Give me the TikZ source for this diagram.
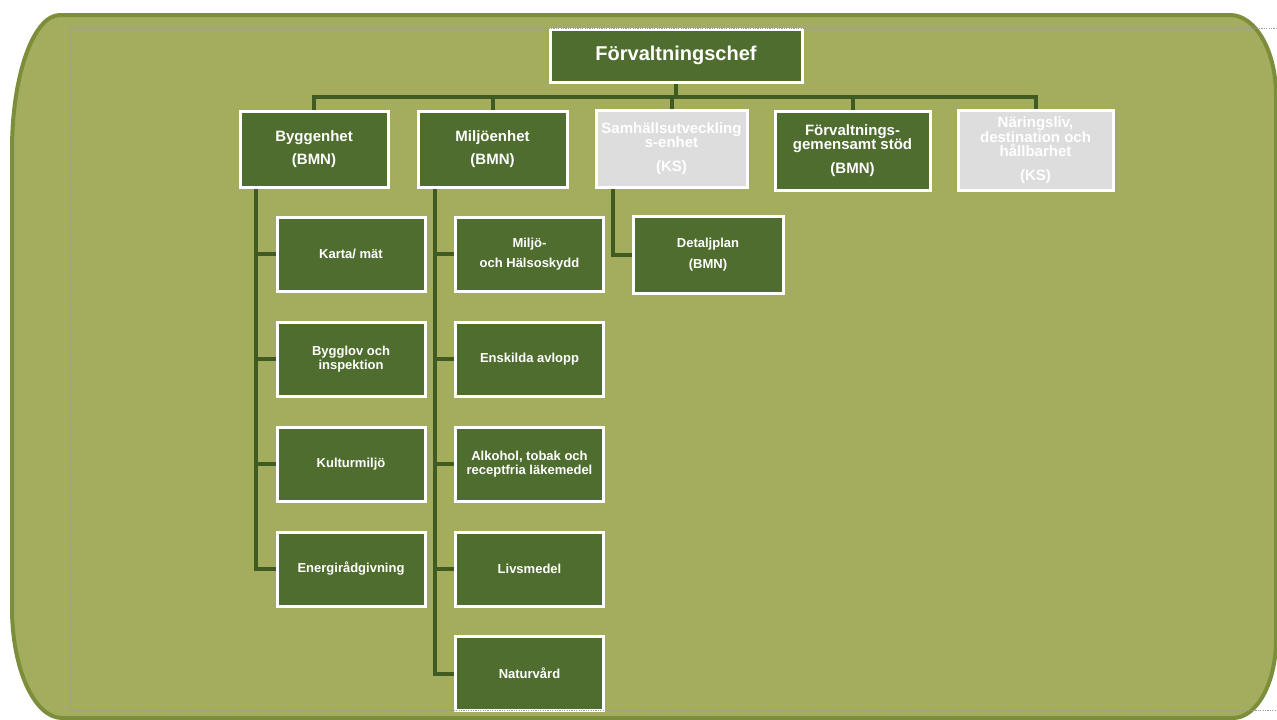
\documentclass[tikz,border=0pt]{standalone}
\usepackage{fontspec}
\setmainfont{Liberation Sans}
\definecolor{bgolive}{HTML}{A3AD5D}
\definecolor{olivestroke}{HTML}{7D8E3A}
\definecolor{boxgreen}{HTML}{4F6D2F}
\definecolor{linegreen}{HTML}{3F5B22}
\definecolor{boxgray}{HTML}{DDDDDD}
\definecolor{dotgray}{HTML}{9A9A9A}
\pgfdeclarelayer{panel}
\pgfdeclarelayer{links}
\pgfsetlayers{panel,links,main}
\tikzset{
  unitbox/.style={draw=white, line width=3pt, fill=boxgreen, text=white, inner sep=0pt, align=center},
  graybox/.style={unitbox, fill=boxgray},
  lvltwo/.style={font=\bfseries\fontsize{15}{14.5}\selectfont},
  lvlthree/.style={font=\bfseries\fontsize{13}{14}\selectfont, minimum width=148pt, minimum height=74pt},
  conn/.style={draw=linegreen, line width=4pt},
  dotline/.style={draw=dotgray, line width=0.8pt, dash pattern=on 1.2pt off 1.2pt},
}
\begin{document}
\begin{tikzpicture}[x=1pt, y=-1pt]
\useasboundingbox (0,0) rectangle (1277,720);
\begin{pgfonlayer}{panel}
\fill[white] (0,0) rectangle (1277,720);
\path[fill=bgolive, draw=olivestroke, line width=4pt]
  (60,15) -- (1230,15)
  .. controls (1255.4,15) and (1276,50.8) .. (1276,95)
  -- (1276,640)
  .. controls (1276,683) and (1256.7,718) .. (1233,718)
  -- (62,718)
  .. controls (34.4,718) and (12,668.7) .. (12,608)
  -- (12,150)
  .. controls (12,75.5) and (33.5,15) .. (60,15) -- cycle;
\end{pgfonlayer}

% top
\node[unitbox, font=\bfseries\fontsize{20}{22}\selectfont, minimum width=252pt, minimum height=53pt] (chef) at (676,55.5) {Förvaltningschef};

% level 2
\node[unitbox, lvltwo, minimum width=148pt, minimum height=76pt] (bygg) at (314,149) {Byggenhet\\[8pt](BMN)};
\node[unitbox, lvltwo, minimum width=149pt, minimum height=76pt] (miljo) at (492.5,149) {Miljöenhet\\[8pt](BMN)};
\node[graybox, lvltwo, minimum width=151pt, minimum height=77pt] (samh) at (671.5,148.5) {Samhällsutveckling\\s-enhet\\[9pt](KS)};
\node[unitbox, lvltwo, minimum width=155pt, minimum height=79pt] (forv) at (852.5,150.5) {Förvaltnings-\\gemensamt stöd\\[9pt](BMN)};
\node[graybox, lvltwo, minimum width=155pt, minimum height=80pt] (naring) at (1035.5,150) {Näringsliv,\\destination och\\hållbarhet\\[9pt](KS)};

% level 3 - Byggenhet
\node[unitbox, lvlthree] (karta) at (351,254) {Karta/ mät};
\node[unitbox, lvlthree] (bygglov) at (351,359) {Bygglov och\\inspektion};
\node[unitbox, lvlthree] (kultur) at (351,464) {Kulturmiljö};
\node[unitbox, lvlthree] (energi) at (351,569) {Energirådgivning};

% level 3 - Miljöenhet
\node[unitbox, lvlthree] (halsa) at (529.5,254) {Miljö-\\[6pt]och Hälsoskydd};
\node[unitbox, lvlthree] (avlopp) at (529.5,359) {Enskilda avlopp};
\node[unitbox, lvlthree] (alkohol) at (529.5,464) {Alkohol, tobak och\\receptfria läkemedel};
\node[unitbox, lvlthree] (livs) at (529.5,569) {Livsmedel};
\node[unitbox, lvlthree] (natur) at (529.5,673.5) {Naturvård};

% level 3 - Samhällsutveckling
\node[unitbox, lvlthree, minimum width=150pt, minimum height=77pt] (detalj) at (708,254.5) {Detaljplan\\[7pt](BMN)};

% connectors
\coordinate (bus) at (313,97);
\coordinate (bt) at (256,187);
\coordinate (mt) at (435,187);
\coordinate (st) at (613,187);
\begin{pgfonlayer}{links}
\draw[conn] (chef.south) -- (chef.south |- bus);
\draw[conn] (bygg.north) -- (bygg.north |- bus) -| (naring.north);
\draw[conn] (miljo.north) -- (miljo.north |- bus);
\draw[conn] (samh.north) -- (samh.north |- bus);
\draw[conn] (forv.north) -- (forv.north |- bus);
% Byggenhet branch
\draw[conn] (bt) |- (energi.west);
\draw[conn] (bt |- karta.west) -- (karta.west);
\draw[conn] (bt |- bygglov.west) -- (bygglov.west);
\draw[conn] (bt |- kultur.west) -- (kultur.west);
% Miljoenhet branch
\draw[conn] (mt) |- (natur.west);
\draw[conn] (mt |- halsa.west) -- (halsa.west);
\draw[conn] (mt |- avlopp.west) -- (avlopp.west);
\draw[conn] (mt |- alkohol.west) -- (alkohol.west);
\draw[conn] (mt |- livs.west) -- (livs.west);
% Samhallsutveckling branch
\draw[conn] (st) |- (detalj.west);
\end{pgfonlayer}

% dotted guide frame
\draw[dotline] (1277,28) -- (70,28) -- (70,710) -- (1277,710);
\end{tikzpicture}
\end{document}
